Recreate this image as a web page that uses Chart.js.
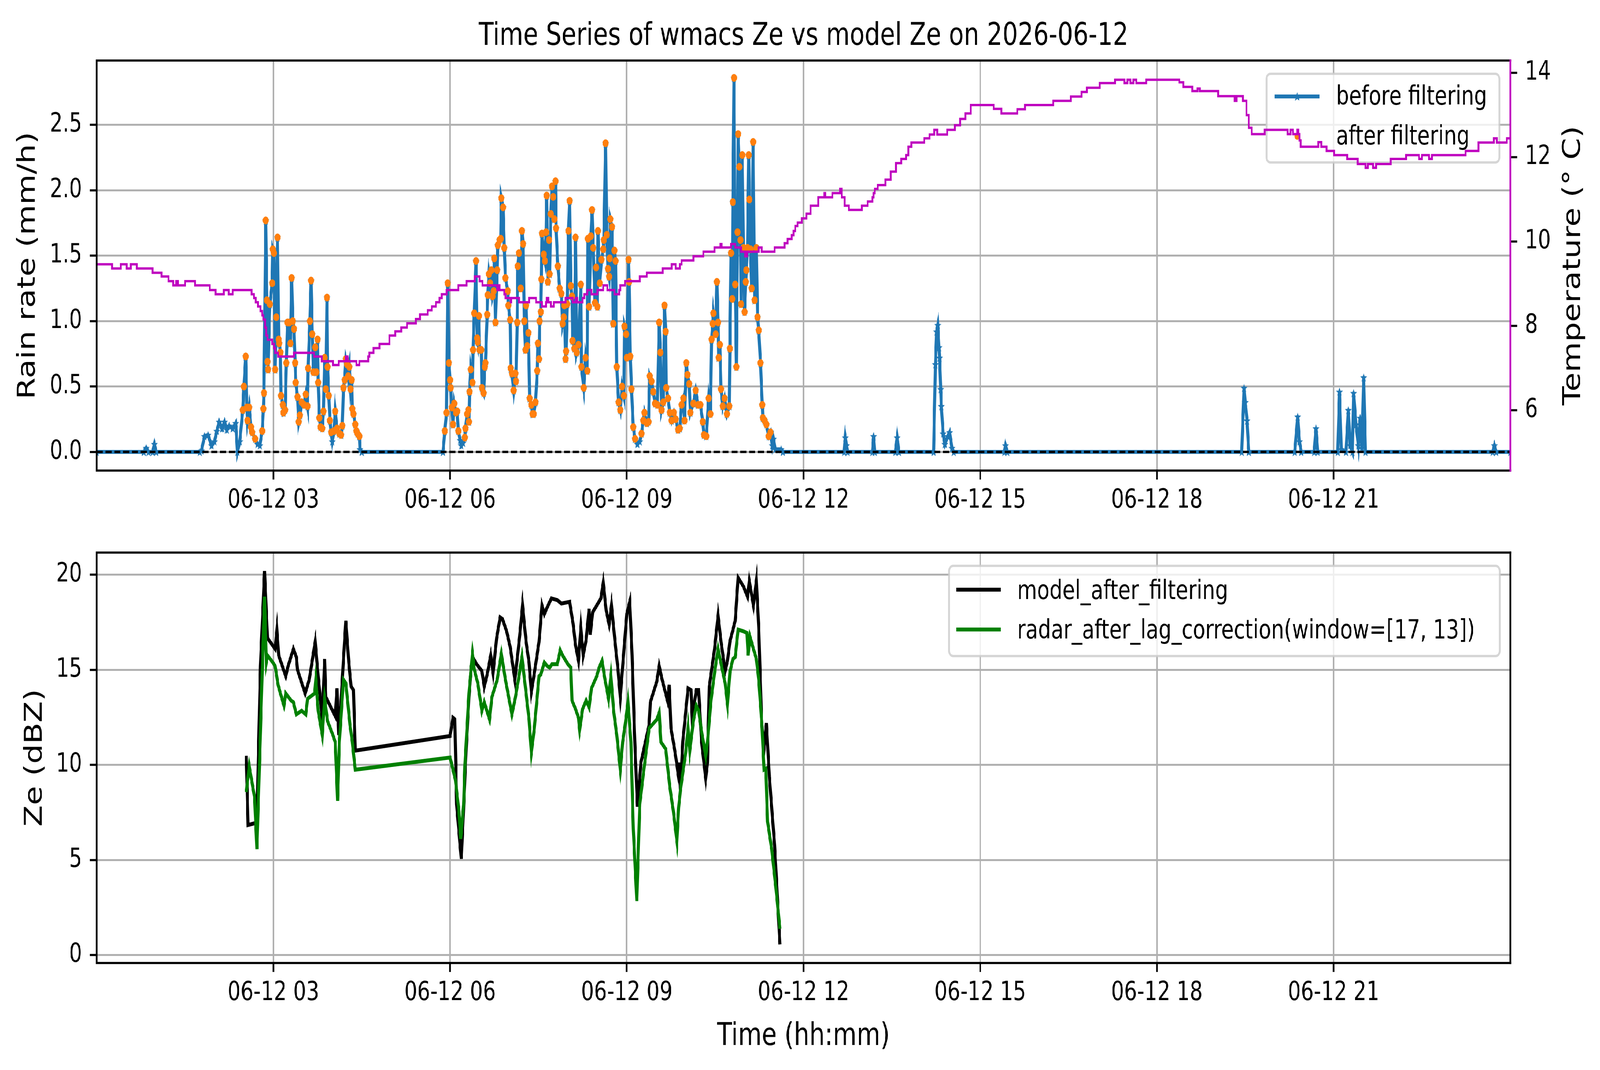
<!DOCTYPE html>
<html><head><meta charset="utf-8">
<script src="https://cdn.jsdelivr.net/npm/chart.js@4.4.1/dist/chart.umd.min.js"></script>
<style>
html,body{margin:0;padding:0;background:#fff;overflow:hidden;}
#wrap{position:absolute;left:0;top:0;width:5263px;height:2740px;transform-origin:0 0;background:#fff;}
#c1{position:absolute;left:0;top:0;}
#c2{position:absolute;left:0;top:1330px;}
</style></head><body>
<div id="wrap">
<canvas id="c1" width="5263" height="1330" style="width:5263px;height:1330px"></canvas>
<canvas id="c2" width="5263" height="1410" style="width:5263px;height:1410px"></canvas>
</div>
<script>
// the figure is laid out on a 5263x2740 grid; stretch it to fill the actual viewport
(function () {
  const vw = window.innerWidth || document.documentElement.clientWidth || 5263;
  const vh = window.innerHeight || document.documentElement.clientHeight || 2740;
  const sx = vw / 5263, sy = vh / 2740;
  document.getElementById('wrap').style.transform = 'scale(' + sx + ',' + sy + ')';
  document.body.style.width = vw + 'px';
  document.body.style.height = vh + 'px';
})();

// ---------------- DATA ----------------
const titleText = 'Time Series of wmacs Ze vs model Ze on 2026-06-12';
const xTickHours = [3, 6, 9, 12, 15, 18, 21];
const xTickLabels = ['06-12 03', '06-12 06', '06-12 09', '06-12 12', '06-12 15', '06-12 18', '06-12 21'];
const rainTicks = [0, 0.5, 1.0, 1.5, 2.0, 2.5];
const tempTicks = [6, 8, 10, 12, 14];
const zeTicks = [0, 5, 10, 15, 20];

// rain rate before filtering (hours of day, mm/h)
const rainHours = [
0.00,0.80,0.84,0.88,0.95,0.98,1.01,1.75,1.78,1.83,1.89,1.95,2.00,2.04,2.08,2.13,2.17,2.21,2.25,2.31,
2.36,2.39,2.43,2.48,2.50,2.53,2.55,2.56,2.59,2.62,2.64,2.69,2.73,2.77,2.81,2.83,2.84,2.87,2.89,2.90,
2.91,2.94,2.98,2.99,3.01,3.03,3.05,3.07,3.09,3.10,3.12,3.13,3.16,3.17,3.20,3.22,3.24,3.27,3.29,3.31,
3.33,3.35,3.37,3.38,3.41,3.43,3.45,3.48,3.52,3.55,3.58,3.59,3.62,3.64,3.66,3.68,3.71,3.73,3.75,3.76,
3.78,3.80,3.83,3.85,3.87,3.89,3.91,3.92,3.94,3.96,3.98,4.00,4.03,4.05,4.08,4.12,4.15,4.17,4.19,4.21,
4.23,4.25,4.27,4.29,4.31,4.33,4.34,4.36,4.39,4.41,4.43,4.46,4.47,4.50,5.88,5.91,5.94,5.96,5.98,6.00,
6.01,6.03,6.05,6.07,6.10,6.12,6.14,6.17,6.19,6.22,6.25,6.26,6.29,6.31,6.32,6.33,6.35,6.38,6.39,6.41,
6.44,6.46,6.47,6.49,6.50,6.53,6.54,6.57,6.59,6.60,6.63,6.64,6.66,6.68,6.70,6.72,6.74,6.75,6.77,6.80,
6.81,6.84,6.86,6.87,6.90,6.92,6.94,6.98,6.99,7.02,7.03,7.05,7.08,7.11,7.12,7.14,7.15,7.17,7.20,7.22,
7.24,7.26,7.28,7.29,7.31,7.33,7.35,7.38,7.40,7.42,7.45,7.48,7.49,7.51,7.52,7.54,7.55,7.56,7.59,7.61,
7.63,7.64,7.66,7.68,7.69,7.71,7.73,7.75,7.77,7.79,7.80,7.83,7.86,7.89,7.91,7.93,7.94,7.96,7.97,7.99,
8.01,8.03,8.05,8.07,8.08,8.11,8.13,8.15,8.18,8.22,8.23,8.27,8.30,8.33,8.34,8.36,8.39,8.41,8.43,8.46,
8.48,8.50,8.51,8.54,8.57,8.60,8.61,8.64,8.66,8.68,8.70,8.71,8.72,8.75,8.77,8.79,8.81,8.83,8.86,8.89,
8.92,8.95,8.96,8.99,9.00,9.03,9.04,9.06,9.08,9.11,9.14,9.18,9.22,9.25,9.28,9.30,9.34,9.37,9.39,9.42,
9.45,9.48,9.52,9.55,9.57,9.59,9.62,9.64,9.66,9.67,9.70,9.73,9.76,9.80,9.83,9.87,9.90,9.93,9.96,9.98,
10.01,10.03,10.06,10.08,10.13,10.17,10.21,10.25,10.29,10.31,10.35,10.39,10.42,10.44,10.46,10.47,10.51,10.53,10.55,10.56,
10.58,10.60,10.63,10.66,10.70,10.74,10.75,10.77,10.79,10.80,10.82,10.84,10.86,10.88,10.89,10.91,10.93,10.94,10.96,10.98,
11.00,11.02,11.03,11.05,11.07,11.08,11.10,11.12,11.145,11.17,11.20,11.22,11.24,11.27,11.30,11.31,11.34,11.37,11.41,11.44,
11.47,11.49,11.52,11.62,11.65,12.69,12.71,12.73,12.75,13.17,13.19,13.21,13.56,13.59,13.62,14.21,14.24,14.26,14.28,14.30,
14.31,14.33,14.34,14.37,14.40,14.45,14.48,14.52,14.55,15.41,15.43,15.46,19.44,19.48,19.50,19.53,19.56,20.34,20.39,20.42,
20.45,20.67,20.70,20.73,21.07,21.10,21.13,21.21,21.25,21.28,21.32,21.34,21.38,21.42,21.45,21.48,21.51,21.54,23.70,23.73,
23.76,24.00
];
const rainBefore = [
0,0,0.03,0,0,0.06,0,0,0.01,0.12,0.13,0.05,0.08,0.16,0.23,0.18,0.23,0.17,0.20,0.18,
0.22,0.00,0.08,0.32,0.50,0.73,0.34,0.24,0.34,0.19,0.15,0.10,0.06,0.05,0.16,0.33,0.45,1.77,1.16,0.69,
0.63,1.13,1.29,1.55,1.52,0.63,1.03,1.64,0.86,0.83,0.76,0.43,0.36,0.30,0.32,0.68,0.99,0.99,0.83,1.33,
1.00,0.94,0.68,0.53,0.42,0.23,0.28,0.38,0.36,0.44,0.35,0.64,1.00,1.31,0.90,0.61,0.80,0.61,0.86,0.53,
0.26,0.19,0.18,0.31,0.72,0.48,1.18,0.65,0.43,0.24,0.15,0.08,0.16,0.31,0.18,0.14,0.13,0.20,0.49,0.55,
0.71,0.67,0.58,0.65,0.48,0.55,0.33,0.29,0.21,0.16,0.14,0.12,0.02,0,0,0.16,0.30,1.29,0.68,0.55,
0.49,0.34,0.21,0.37,0.30,0.31,0.16,0.09,0.05,0.07,0.11,0.18,0.29,0.32,0.23,0.46,0.63,0.53,0.78,1.06,
1.46,0.87,0.84,1.04,0.78,0.78,0.49,0.45,0.65,0.68,1.05,1.20,1.36,1.29,1.39,1.19,1.23,1.48,0.99,1.39,
1.58,1.62,1.63,1.94,1.87,1.56,1.33,1.23,1.12,1.01,0.64,0.60,0.47,0.60,0.54,0.99,1.42,1.52,1.25,1.69,
1.59,1.00,0.78,1.12,0.81,0.91,0.41,0.36,0.29,0.29,0.38,0.62,0.83,0.71,1.00,1.07,1.32,1.67,1.51,1.46,
1.68,1.96,1.30,1.62,1.36,1.82,2.03,1.95,1.78,2.07,1.71,1.42,1.25,1.21,0.98,1.03,1.12,0.71,0.77,1.13,
1.69,1.92,1.27,1.19,0.85,0.79,1.64,0.76,0.82,1.28,0.65,0.49,0.72,0.62,1.63,1.11,1.65,1.85,1.56,1.14,
1.41,1.11,1.69,1.29,1.47,1.55,1.62,2.36,1.66,1.40,1.34,1.48,1.78,1.72,0.98,1.54,1.46,0.65,0.38,0.32,
0.50,0.43,0.96,0.90,0.72,1.47,1.30,0.73,0.48,0.19,0.10,0.06,0.08,0.14,0.24,0.30,0.22,0.23,0.58,0.54,
0.46,0.37,0.36,0.99,0.76,0.32,0.38,1.12,0.92,0.49,0.41,0.30,0.24,0.30,0.25,0.17,0.18,0.36,0.41,0.24,
0.68,0.59,0.52,0.30,0.37,0.47,0.36,0.36,0.23,0.13,0.12,0.41,0.29,0.86,0.98,1.06,0.90,1.30,0.99,0.72,
0.82,0.48,0.35,0.41,0.29,0.35,0.79,1.52,1.17,1.91,2.86,1.28,0.65,1.68,2.43,2.18,1.62,1.13,2.27,1.56,
1.07,1.30,1.39,1.56,2.27,1.93,1.55,1.25,2.37,1.16,1.56,1.03,0.93,0.68,0.36,0.26,0.24,0.21,0.12,0.15,
0.05,0.10,0.02,0.02,0,0,0.11,0.05,0,0,0.12,0,0,0.11,0,0,0.67,0.92,0.97,0.80,
0.72,0.48,0.35,0.14,0.06,0.12,0.15,0.03,0,0,0.05,0,0,0.49,0.38,0.24,0,0,0.27,0.08,
0,0,0.18,0,0,0.46,0.02,0,0.32,0.05,0,0.45,0.21,0.05,0.26,0.03,0.57,0,0,0.05,
0,0
];
// points kept by the filter: inside these rain windows and at least keepMin mm/h
const keepWindows = [[2.47, 4.47], [5.90, 11.45]];
const keepMin = 0.1;

// temperature (hour where each level starts, deg C)
const tempHours = [
0.00,0.26,0.41,0.51,0.58,0.68,0.95,1.10,1.22,1.30,1.35,1.38,1.50,1.67,1.92,2.02,2.16,2.24,2.31,2.63,
2.67,2.70,2.74,2.78,2.81,2.83,2.86,2.88,2.90,2.98,3.01,3.03,3.08,3.35,3.69,3.82,4.01,4.11,4.23,4.26,
4.41,4.46,4.61,4.63,4.70,4.80,4.97,5.07,5.17,5.27,5.42,5.49,5.62,5.69,5.76,5.82,5.86,5.94,6.14,6.28,
6.42,6.50,6.55,6.80,6.82,6.84,6.92,6.94,7.03,7.04,7.17,7.34,7.46,7.56,7.63,7.64,7.67,7.71,7.76,7.96,
8.08,8.13,8.16,8.25,8.28,8.33,8.40,8.50,8.60,8.67,8.79,8.87,8.89,8.97,9.22,9.34,9.61,9.76,9.83,9.90,
9.93,10.13,10.30,10.49,10.59,10.61,10.77,10.84,10.94,11.01,11.04,11.24,11.29,11.51,11.68,11.73,11.80,11.83,11.86,11.90,
11.97,12.05,12.12,12.25,12.35,12.37,12.49,12.62,12.65,12.70,12.77,12.99,13.09,13.17,13.19,13.21,13.26,13.39,13.48,13.57,
13.66,13.74,13.78,13.83,14.05,14.14,14.22,14.27,14.44,14.57,14.66,14.75,14.84,15.23,15.36,15.63,15.76,16.24,16.54,16.72,
16.81,17.03,17.29,17.45,17.50,17.55,17.60,17.65,17.82,18.38,18.45,18.60,18.69,18.73,19.04,19.32,19.35,19.46,19.52,19.56,
19.61,19.83,20.22,20.27,20.31,20.38,20.40,20.42,20.44,20.74,20.79,20.88,21.01,21.23,21.41,21.54,21.58,21.67,21.72,21.97,
22.23,22.45,22.50,22.62,22.67,23.24,23.46,23.72,23.77,23.94,24.00
];
const tempValues = [
9.46,9.36,9.46,9.36,9.46,9.36,9.26,9.17,9.06,8.96,9.06,8.96,9.06,8.96,8.85,8.75,8.85,8.75,8.85,8.75,
8.66,8.56,8.46,8.35,8.25,8.15,7.96,7.77,7.67,7.57,7.47,7.36,7.27,7.36,7.27,7.16,7.07,7.16,7.27,7.16,
7.07,7.16,7.27,7.36,7.47,7.57,7.77,7.87,7.96,8.06,8.16,8.27,8.37,8.46,8.56,8.66,8.75,8.85,8.96,9.06,
9.17,9.06,8.96,8.85,8.96,8.85,8.75,8.66,8.56,8.66,8.56,8.66,8.56,8.46,8.56,8.66,8.56,8.46,8.56,8.66,
8.56,8.66,8.56,8.66,8.75,8.85,8.75,8.85,8.96,8.85,8.75,8.85,8.96,9.06,9.17,9.26,9.36,9.46,9.36,9.46,
9.55,9.65,9.76,9.86,9.94,9.86,9.94,9.86,9.76,9.65,9.76,9.86,9.76,9.86,9.96,10.06,10.15,10.25,10.37,10.45,
10.55,10.66,10.85,11.05,11.15,11.05,11.15,11.25,11.05,10.85,10.75,10.85,10.95,11.05,11.15,11.25,11.34,11.47,11.66,11.86,
11.96,12.05,12.25,12.35,12.45,12.54,12.65,12.54,12.65,12.76,12.91,13.04,13.24,13.15,13.04,13.14,13.24,13.34,13.44,13.55,
13.65,13.76,13.84,13.76,13.84,13.76,13.84,13.76,13.84,13.78,13.67,13.57,13.63,13.57,13.45,13.34,13.45,13.34,13.00,12.70,
12.55,12.65,12.55,12.65,12.55,12.65,12.55,12.40,12.25,12.36,12.25,12.15,12.05,11.96,11.84,11.75,11.84,11.75,11.84,11.96,
12.05,11.96,12.05,11.96,12.05,12.15,12.35,12.45,12.35,12.45,12.45
];

// Ze model after filtering (hours, dBZ)
const modelHours = [
2.54,2.57,2.68,2.72,2.78,2.85,2.90,3.03,3.06,3.09,3.21,3.25,3.34,3.39,3.41,3.54,3.61,3.71,3.76,3.80,
3.83,3.87,3.89,4.05,4.08,4.11,4.14,4.19,4.23,4.28,4.32,4.36,4.39,6.00,6.05,6.08,6.11,6.16,6.19,6.23,
6.27,6.32,6.36,6.40,6.45,6.54,6.58,6.63,6.69,6.73,6.79,6.85,6.89,6.96,7.02,7.10,7.14,7.19,7.23,7.29,
7.34,7.38,7.44,7.51,7.56,7.60,7.65,7.72,7.82,7.89,8.03,8.09,8.13,8.18,8.22,8.26,8.31,8.36,8.38,8.42,
8.49,8.56,8.60,8.65,8.70,8.74,8.80,8.85,8.89,8.93,9.00,9.05,9.09,9.13,9.18,9.24,9.38,9.40,9.51,9.55,
9.60,9.69,9.72,9.75,9.82,9.87,9.89,9.91,9.95,10.04,10.09,10.11,10.18,10.22,10.27,10.34,10.37,10.40,10.49,10.55,
10.60,10.67,10.71,10.75,10.84,10.89,10.98,11.05,11.08,11.15,11.20,11.24,11.29,11.33,11.37,11.42,11.51,11.60
];
const modelZe = [
10.48,6.84,6.93,7.02,15.2,20.2,16.67,16.1,17.1,15.76,14.67,15.2,16.1,15.67,15.0,13.76,14.5,16.48,14.67,13.39,
12.3,15.57,13.57,12.57,14.03,11.57,12.85,15.57,17.58,15.39,14.12,13.94,10.75,11.52,12.48,12.4,7.93,6.11,5.06,7.75,
10.66,13.57,15.2,15.57,15.3,14.94,14.12,14.76,15.76,14.85,16.67,17.76,17.67,17.03,16.21,14.48,15.57,17.03,18.39,16.48,
15.39,13.85,15.03,16.48,18.39,17.94,18.3,18.76,18.67,18.49,18.58,17.39,16.3,15.48,17.2,15.76,16.58,18.21,16.85,18.03,
18.39,18.76,19.58,18.12,17.39,18.39,16.48,15.03,13.57,15.2,17.94,18.58,15.76,11.75,7.8,10.12,12.12,13.3,14.39,15.2,
14.48,13.39,14.21,11.93,10.66,9.57,10.12,8.66,11.2,14.03,13.94,12.48,13.94,13.94,11.2,9.3,10.12,14.12,16.1,17.85,
16.48,14.94,15.48,16.48,17.58,19.85,19.39,18.85,19.67,18.39,19.67,17.2,12.2,10.84,12.2,9.39,5.75,0.56
];
// Ze radar after lag correction (hours, dBZ)
const radarHours = [
2.54,2.59,2.68,2.72,2.77,2.81,2.85,2.88,2.90,2.99,3.03,3.08,3.12,3.18,3.21,3.30,3.34,3.39,3.48,3.55,
3.58,3.70,3.72,3.76,3.83,3.87,3.92,4.01,4.05,4.09,4.12,4.19,4.23,4.30,4.34,4.39,6.00,6.05,6.09,6.15,
6.18,6.23,6.25,6.32,6.38,6.41,6.47,6.54,6.58,6.67,6.71,6.80,6.87,6.94,7.05,7.11,7.16,7.22,7.29,7.34,
7.38,7.43,7.51,7.54,7.60,7.65,7.69,7.73,7.82,7.87,7.91,8.00,8.05,8.07,8.13,8.18,8.20,8.25,8.31,8.36,
8.40,8.49,8.53,8.58,8.62,8.69,8.73,8.78,8.83,8.89,8.93,8.98,9.02,9.07,9.11,9.17,9.22,9.29,9.38,9.51,
9.55,9.58,9.66,9.73,9.79,9.85,9.88,9.91,10.00,10.04,10.07,10.13,10.18,10.22,10.27,10.34,10.37,10.43,10.49,10.55,
10.62,10.67,10.71,10.75,10.80,10.84,10.89,10.98,11.04,11.06,11.09,11.15,11.20,11.24,11.29,11.33,11.36,11.39,11.46,11.53,
11.60
];
const radarZe = [
8.57,9.93,8.30,5.57,10.66,14.85,18.85,15.39,15.76,15.39,15.2,14.21,13.76,13.12,13.76,13.39,13.3,12.66,12.85,12.66,
13.48,13.76,14.48,12.85,11.57,13.48,12.3,11.57,11.2,8.11,11.2,14.48,14.3,12.12,11.2,9.75,10.39,9.75,9.21,7.57,
6.11,7.93,9.93,13.76,15.85,15.03,14.3,12.85,13.3,12.39,13.57,14.48,15.85,14.48,12.66,13.57,14.48,15.67,13.76,12.39,
10.66,11.93,14.67,14.75,15.39,15.2,15.12,15.3,15.3,16.03,15.76,15.3,15.12,13.39,12.94,12.48,11.84,12.94,13.39,13.03,
14.03,14.67,15.12,15.48,14.67,13.48,14.67,12.75,11.57,9.75,11.2,12.3,13.3,11.2,6.66,2.84,7.93,9.75,11.93,12.39,
12.75,11.2,10.84,8.84,7.57,6.02,7.75,8.66,10.66,11.93,10.75,12.3,13.12,12.85,11.75,10.48,11.2,13.39,14.85,16.1,
15.03,14.3,13.2,14.85,15.57,15.67,17.12,17.03,16.94,15.76,16.76,16.1,15.57,14.48,12.3,9.75,9.8,7.02,5.57,3.57,
1.38
];

// ---------------- BUILD ----------------
const FONT = "'DejaVu Sans'";
Chart.defaults.font.family = FONT;
Chart.defaults.color = '#000';

const toPts = (xs, ys) => xs.map((x, i) => ({x: x, y: ys[i]}));
const rainPts = toPts(rainHours, rainBefore);
const afterPts = [];
rainHours.forEach((h, i) => {
  const v = rainBefore[i];
  if (v >= keepMin && keepWindows.some(w => h >= w[0] && h <= w[1])) afterPts.push({x: h, y: v});
});
const tempPts = toPts(tempHours, tempValues);

function makeStar(R, color) {
  const s = Math.ceil(R * 2 + 4);
  const c = document.createElement('canvas');
  c.width = s; c.height = s;
  const g = c.getContext('2d');
  g.translate(s / 2, s / 2 + R * 0.1);
  g.beginPath();
  const r = R * 0.42;
  for (let k = 0; k < 10; k++) {
    const a = -Math.PI / 2 + k * Math.PI / 5;
    const rr = (k % 2) ? r : R;
    g.lineTo(rr * Math.cos(a), rr * Math.sin(a));
  }
  g.closePath();
  g.fillStyle = color; g.fill();
  return c;
}
const BLUE = '#1f77b4', ORANGE = '#ff7f0e', MAG = '#bf00bf', GREEN = '#008000';
const star = makeStar(12, BLUE);

function rrect(ctx, x, y, w, h, r) {
  ctx.beginPath();
  ctx.moveTo(x + r, y);
  ctx.arcTo(x + w, y, x + w, y + h, r);
  ctx.arcTo(x + w, y + h, x, y + h, r);
  ctx.arcTo(x, y + h, x, y, r);
  ctx.arcTo(x, y, x + w, y, r);
  ctx.closePath();
}
function legendBox(ctx, x0, y0, x1, y1) {
  ctx.save();
  rrect(ctx, x0, y0, x1 - x0, y1 - y0, 13);
  ctx.fillStyle = 'rgba(255,255,255,0.8)';
  ctx.fill();
  ctx.lineWidth = 6;
  ctx.strokeStyle = 'rgba(204,204,204,0.8)';
  ctx.stroke();
  ctx.restore();
}
function spines(ctx, a, rightColor) {
  ctx.save();
  ctx.lineWidth = 5.5;
  ctx.lineCap = 'square';
  ctx.strokeStyle = '#000';
  ctx.beginPath();
  ctx.moveTo(a.left, a.bottom); ctx.lineTo(a.left, a.top); ctx.lineTo(a.right, a.top);
  ctx.moveTo(a.left, a.bottom); ctx.lineTo(a.right, a.bottom);
  ctx.stroke();
  ctx.strokeStyle = rightColor;
  ctx.beginPath();
  ctx.moveTo(a.right, a.top); ctx.lineTo(a.right, a.bottom);
  ctx.stroke();
  ctx.restore();
}
function vtext(ctx, txt, x, y, size) {
  ctx.save();
  ctx.translate(x, y);
  ctx.rotate(-Math.PI / 2);
  ctx.font = size + 'px ' + FONT;
  ctx.fillStyle = '#000';
  ctx.textAlign = 'center';
  ctx.textBaseline = 'alphabetic';
  ctx.fillText(txt, 0, 0);
  ctx.restore();
}

const gridCfg = {color: '#b0b0b0', lineWidth: 5, tickColor: '#000', tickLength: 23, tickWidth: 5.5, drawTicks: true};
const tickFont = {size: 67, family: FONT, lineHeight: 1.2};
const setTicks = arr => (s => { s.ticks = arr.map(v => ({value: v})); });

function xScale(h) {
  return {
    type: 'linear', position: 'bottom', min: 0, max: 24,
    afterBuildTicks: setTicks(xTickHours),
    afterFit: s => { s.height = h; },
    grid: gridCfg, border: {display: false},
    ticks: {autoSkip: false, maxRotation: 0, minRotation: 0, padding: 14, font: tickFont, color: '#000',
            callback: (v, i) => xTickLabels[i]}
  };
}

// ---------- TOP CHART ----------
const topPlugin = {
  id: 'topDecor',
  beforeDatasetDraw(chart, args) {
    if (args.index !== 3) return;
    const ctx = chart.ctx;
    legendBox(ctx, 4166, 189, 4932, 416);
    ctx.save();
    ctx.strokeStyle = BLUE; ctx.lineWidth = 10;
    ctx.beginPath(); ctx.moveTo(4193, 247); ctx.lineTo(4341, 247); ctx.stroke();
    ctx.drawImage(star, 4267 - star.width / 2, 247 - star.height / 2);
    ctx.fillStyle = ORANGE;
    ctx.beginPath(); ctx.arc(4267, 349, 9, 0, Math.PI * 2); ctx.fill();
    ctx.font = '67px ' + FONT; ctx.fillStyle = '#000';
    ctx.textAlign = 'left'; ctx.textBaseline = 'alphabetic';
    ctx.fillText('before filtering', 4395, 268);
    ctx.fillText('after filtering', 4395, 370);
    ctx.restore();
  },
  afterDraw(chart) {
    const ctx = chart.ctx, a = chart.chartArea;
    spines(ctx, a, MAG);
    ctx.save();
    ctx.font = '80px ' + FONT; ctx.fillStyle = '#000';
    ctx.textAlign = 'center'; ctx.textBaseline = 'alphabetic';
    ctx.fillText(titleText, (a.left + a.right) / 2, 115);
    ctx.restore();
    vtext(ctx, 'Rain rate (mm/h)', 114, (a.top + a.bottom) / 2, 80);
    vtext(ctx, 'Temperature (° C)', 5197, (a.top + a.bottom) / 2, 80);
  }
};

new Chart(document.getElementById('c1'), {
  type: 'line',
  data: {
    datasets: [
      {label: 'before filtering', data: rainPts, yAxisID: 'y', borderColor: BLUE, borderWidth: 10,
       pointStyle: star, pointRadius: 12, pointBackgroundColor: BLUE, pointBorderWidth: 0, tension: 0, order: 4},
      {label: 'after filtering', data: afterPts, yAxisID: 'y', showLine: false, pointStyle: 'circle',
       pointRadius: 10, pointBackgroundColor: ORANGE, pointBorderWidth: 0, order: 3},
      {label: 'zero', data: [{x: 0, y: 0}, {x: 24, y: 0}], yAxisID: 'y', borderColor: '#000', borderWidth: 6,
       borderDash: [20, 9], pointRadius: 0, order: 2},
      {label: 'temperature', data: tempPts, yAxisID: 'y2', borderColor: MAG, borderWidth: 6,
       stepped: 'before', pointRadius: 0, order: 1}
    ]
  },
  options: {
    responsive: false, animation: false, devicePixelRatio: 1, events: [],
    layout: {padding: {top: 155, left: 0, right: 0, bottom: 0}, autoPadding: false},
    plugins: {legend: {display: false}, title: {display: false}, tooltip: {enabled: false}},
    scales: {
      x: xScale(125),
      y: {type: 'linear', position: 'left', min: -0.1425, max: 2.9925,
          afterBuildTicks: setTicks(rainTicks), afterFit: s => { s.width = 318; },
          grid: gridCfg, border: {display: false},
          ticks: {padding: 25, font: tickFont, color: '#000', callback: v => Number(v).toFixed(1)}},
      y2: {type: 'linear', position: 'right', min: 4.565, max: 14.296,
          afterBuildTicks: setTicks(tempTicks), afterFit: s => { s.width = 295; },
          grid: {drawOnChartArea: false, color: '#000', tickColor: '#000', tickLength: 23, tickWidth: 5.5, lineWidth: 5},
          border: {display: false},
          ticks: {padding: 25, font: tickFont, color: '#000', callback: v => String(v)}}
    }
  },
  plugins: [topPlugin]
});

// ---------- BOTTOM CHART ----------
const botPlugin = {
  id: 'botDecor',
  afterDraw(chart) {
    const ctx = chart.ctx, a = chart.chartArea;
    legendBox(ctx, 3122, 119, 4933, 350);
    ctx.save();
    ctx.lineWidth = 10;
    ctx.strokeStyle = '#000';
    ctx.beginPath(); ctx.moveTo(3145, 180); ctx.lineTo(3292, 180); ctx.stroke();
    ctx.strokeStyle = GREEN;
    ctx.beginPath(); ctx.moveTo(3145, 282); ctx.lineTo(3292, 282); ctx.stroke();
    ctx.font = '67px ' + FONT; ctx.fillStyle = '#000';
    ctx.textAlign = 'left'; ctx.textBaseline = 'alphabetic';
    ctx.fillText('model_after_filtering', 3346, 204);
    ctx.fillText('radar_after_lag_correction(window=[17, 13])', 3346, 305);
    ctx.restore();
    spines(ctx, a, '#000');
    ctx.save();
    ctx.font = '80px ' + FONT; ctx.fillStyle = '#000';
    ctx.textAlign = 'center'; ctx.textBaseline = 'alphabetic';
    ctx.fillText('Time (hh:mm)', (a.left + a.right) / 2, 1346);
    ctx.restore();
    vtext(ctx, 'Ze (dBZ)', 137, (a.top + a.bottom) / 2, 80);
  }
};

new Chart(document.getElementById('c2'), {
  type: 'line',
  data: {
    datasets: [
      {label: 'model_after_filtering', data: toPts(modelHours, modelZe), borderColor: '#000', borderWidth: 10,
       pointRadius: 0, tension: 0, order: 2},
      {label: 'radar_after_lag_correction(window=[17, 13])', data: toPts(radarHours, radarZe), borderColor: GREEN,
       borderWidth: 10, pointRadius: 0, tension: 0, order: 1}
    ]
  },
  options: {
    responsive: false, animation: false, devicePixelRatio: 1, events: [],
    layout: {padding: {top: 85, left: 0, right: 295, bottom: 0}, autoPadding: false},
    plugins: {legend: {display: false}, title: {display: false}, tooltip: {enabled: false}},
    scales: {
      x: xScale(274),
      y: {type: 'linear', position: 'left', min: -0.42, max: 21.17,
          afterBuildTicks: setTicks(zeTicks), afterFit: s => { s.width = 318; },
          grid: gridCfg, border: {display: false},
          ticks: {padding: 25, font: tickFont, color: '#000', callback: v => String(v)}}
    }
  },
  plugins: [botPlugin]
});
</script>
</body></html>
